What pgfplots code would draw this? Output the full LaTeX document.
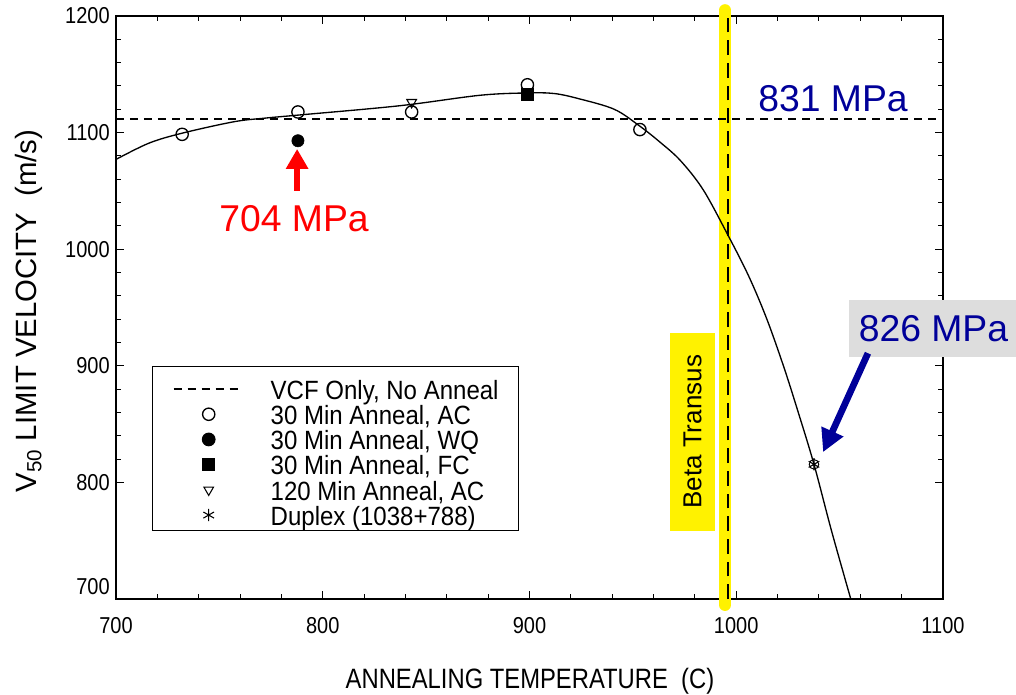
\documentclass[border=0pt]{standalone}
\usepackage{fontspec}
\setmainfont{Liberation Sans}
\usepackage{graphicx}
\usepackage{pgfplots}
\pgfplotsset{compat=1.18}
\usetikzlibrary{arrows.meta}
\definecolor{mpablue}{RGB}{0,0,153}
\definecolor{boxgray}{RGB}{221,221,221}
\begin{document}
\begin{tikzpicture}
\useasboundingbox (-87pt,-71.25pt) rectangle (675pt,449.25pt);
\begin{axis}[
  at={(0pt,0pt)}, anchor=south west,
  scale only axis, width=620.25pt, height=437.25pt,
  xmin=700, xmax=1100, ymin=700, ymax=1200,
  clip=false,
  xtick={700,800,900,1000,1100},
  ytick={800,900,1000,1100,1200},
  extra y ticks={700},
  extra y tick style={yticklabel style={yshift=9pt}},
  minor x tick num=4, minor y tick num=4,
  tick align=inside, major tick length=6pt, minor tick length=3.75pt,
  axis line style={line width=1.5pt},
  tick style={black, line width=0.8pt},
  /pgf/number format/assume math mode=true,
  /pgf/number format/1000 sep={},
  xticklabel={\scalebox{0.87}[1]{\pgfmathprintnumber{\tick}}},
  yticklabel={\scalebox{0.87}[1]{\pgfmathprintnumber{\tick}}},
  xticklabel style={font=\fontsize{17.25}{20}\selectfont, anchor=base, inner sep=0pt, yshift=-25.5pt},
  yticklabel style={font=\fontsize{17.25}{20}\selectfont, anchor=east, inner sep=0pt, xshift=-4.5pt},
  xlabel={\scalebox{0.85}[1]{ANNEALING TEMPERATURE\ \ (C)}},
  xlabel style={font=\fontsize{21}{24}\selectfont, at={(axis description cs:0.5006,-0.1527)}, anchor=base, inner sep=0pt},
  ylabel={V\textsubscript{50} LIMIT VELOCITY\ \ (m/s)},
  ylabel style={font=\fontsize{22}{26}\selectfont, at={(axis description cs:-0.1052,0.494)}, anchor=center, inner sep=0pt},
  legend style={at={(axis description cs:0.0435,0.3997)}, anchor=north west,
    draw=black, line width=1.1pt, fill=white,
    inner xsep=15pt, inner ysep=1pt,
    font=\fontsize{19.8}{21}\selectfont,
    nodes={inner sep=0pt, text height=23.5pt, text depth=3pt, line width=1pt},
    row sep=-7.6pt, column sep=19.5pt},
  legend cell align=left,
  legend image code/.code={\draw[mark repeat=2,mark phase=2,yshift=-2.5pt,#1] plot coordinates {(0pt,0pt)(26.25pt,0pt)(52.5pt,0pt)};},
]
% beta transus yellow band and dashed line
\draw[yellow, line width=9pt, line cap=round] (axis cs:994.6,694.9) -- (axis cs:994.6,1205);
\draw[black, line width=1.5pt, dash pattern=on 11pt off 6pt] (axis cs:996.1,700) -- (axis cs:996.1,1200);
\node[fill=yellow, minimum width=148.5pt, minimum height=33.75pt, inner sep=0pt, rotate=90,
      font=\fontsize{19.5}{20}\selectfont] at (axis cs:978.9,843.4) {Beta Transus};

% fitted curve
\addplot[black, line width=1pt, smooth, tension=0.55, forget plot] coordinates {
(700,1077) (716,1091) (732,1099.5) (757,1109.3) (772,1112.4) (788,1115) (837,1123)
(876,1132) (899,1134) (912,1133.5) (924,1129) (941,1120) (953,1106) (963,1092)
(973,1076) (984,1051) (996,1012) (1006,977) (1014.7,940.5) (1023,899)
(1030,860) (1037.6,815.5) (1046,759) (1055.4,700)};

% VCF only, no anneal
\addplot[black, line width=1.5pt, dash pattern=on 6pt off 4.5pt] coordinates {(700,1112) (1100,1112)};
\addlegendentry{\scalebox{0.91}[1]{VCF Only, No Anneal}}
% 30 min AC
\addplot[only marks, mark=o, mark size=4.6pt, mark options={black, fill=white, line width=1pt}] coordinates {
(732,1098.5) (788,1117.7) (843,1117.7) (899,1141) (953.4,1102.6)};
\addlegendentry{\scalebox{0.91}[1]{30 Min Anneal, AC}}
% 30 min WQ
\addplot[only marks, mark=*, mark size=4.6pt, mark options={black, fill=black}] coordinates {(788,1093)};
\addlegendentry{\scalebox{0.91}[1]{30 Min Anneal, WQ}}
% 30 min FC
\addplot[only marks, mark=square*, mark size=4.4pt, mark options={black, fill=black}] coordinates {(899,1133)};
\addlegendentry{\scalebox{0.91}[1]{30 Min Anneal, FC}}
% 120 min AC
\addplot[only marks, mark=triangle, mark size=4.2pt, mark options={black, rotate=180, line width=0.8pt}] coordinates {(843,1126)};
\addlegendentry{\scalebox{0.91}[1]{120 Min Anneal, AC}}
% Duplex
\addplot[only marks, mark=asterisk, mark size=4.6pt, mark options={black, line width=0.8pt}] coordinates {(1037.6,815.5)};
\addlegendentry{\scalebox{0.91}[1]{Duplex (1038+788)}}
\addplot[only marks, mark=o, mark size=3.6pt, mark options={black, line width=0.7pt}, forget plot] coordinates {(1037.6,815.5)};

% annotations
\draw[red, line width=4pt, -{Triangle[width=16pt,length=15pt]}] (axis cs:787.6,1050) -- (axis cs:787.6,1086);
\node[red, font=\fontsize{28}{30}\selectfont, inner sep=0pt] at (axis cs:786.1,1026.1) {704 MPa};
\node[mpablue, font=\fontsize{28}{30}\selectfont, inner sep=0pt] at (axis cs:1046.8,1129.3) {831 MPa};
\node[fill=boxgray, text=mpablue, font=\fontsize{28}{30}\selectfont, inner sep=0pt,
      minimum width=126pt, minimum height=42.75pt] at (axis cs:1095.4,932) {826 MPa};
\draw[mpablue, line width=5pt, -{Triangle[width=17pt,length=17pt]}] (axis cs:1063.7,910.8) -- (axis cs:1042,826);
\end{axis}
\end{tikzpicture}
\end{document}
